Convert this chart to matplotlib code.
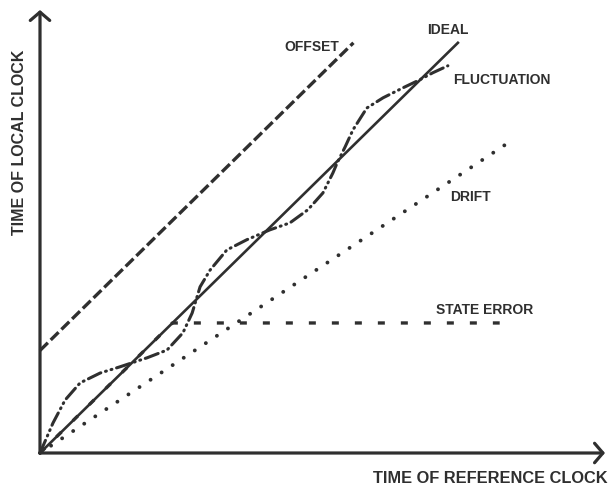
import matplotlib
matplotlib.use('Agg')
import matplotlib.pyplot as plt

# reference clock time (x) vs local clock time (y), arbitrary units
ideal_x = [0, 10]
ideal_y = [0, 10]

offset_x = [0, 7.5]
offset_y = [2.5, 10.0]

drift_x = [0, 11.2]
drift_y = [0, 7.56]

state_x = [0, 3.17, 11.0]
state_y = [0, 3.17, 3.17]

fluct_x = [0, 0.31, 0.60, 0.96, 1.44, 1.91, 2.56, 3.04, 3.42, 3.64, 3.83, 4.07,
           4.47, 4.95, 5.50, 5.98, 6.41, 6.77, 7.01, 7.11, 7.30, 7.49, 7.82,
           8.21, 8.68, 9.09, 9.40, 9.76]
fluct_y = [0, 0.73, 1.29, 1.71, 1.95, 2.10, 2.32, 2.51, 2.93, 3.41, 4.05, 4.46,
           4.95, 5.20, 5.44, 5.61, 5.93, 6.34, 6.83, 7.07, 7.46, 7.88, 8.41,
           8.66, 8.90, 9.10, 9.27, 9.44]

labels = {
    'OFFSET': (6.51, 9.90),
    'IDEAL': (9.76, 10.32),
    'FLUCTUATION': (11.05, 9.10),
    'DRIFT': (10.29, 6.24),
    'STATE ERROR': (10.65, 3.49),
}

x_max = 13.52
y_max = 10.8

col = '#2f2f2f'
font = ['Liberation Sans', 'DejaVu Sans']

fig = plt.figure(figsize=(6.08, 4.86), dpi=100)
ax = fig.add_axes([40 / 608, 33 / 486, 565 / 608, 443 / 486])
ax.set_xlim(0, x_max)
ax.set_ylim(0, y_max)
ax.axis('off')

# state error (drawn first, mostly hidden under the ideal line)
ax.plot(state_x, state_y, color=col, lw=2.4, linestyle=(0, (2.1, 4.8)),
        solid_capstyle='butt', dash_capstyle='butt', clip_on=False)
ax.plot(drift_x, drift_y, color=col, lw=2.8, linestyle=(0, (0.01, 3.4)),
        dash_capstyle='round', clip_on=False)
ax.plot(offset_x, offset_y, color=col, lw=2.4, linestyle=(0, (3.3, 1.2)),
        clip_on=False)
ax.plot(fluct_x, fluct_y, color=col, lw=2.2,
        linestyle=(0, (4.5, 1.6, 0.3, 1.6, 0.3, 1.6)),
        dash_capstyle='round', clip_on=False)
ax.plot(ideal_x, ideal_y, color=col, lw=1.9, clip_on=False)

# axes with open arrow heads
arrow = dict(arrowstyle='->,head_length=0.6,head_width=0.7', lw=2.3,
             color=col, shrinkA=0, shrinkB=0)
ax.annotate('', xy=(x_max, 0), xytext=(0, 0), arrowprops=arrow,
            annotation_clip=False)
ax.annotate('', xy=(0, y_max), xytext=(0, 0), arrowprops=arrow,
            annotation_clip=False)

for name, (tx, ty) in labels.items():
    ax.text(tx, ty, name, ha='center', va='center', fontsize=10,
            fontweight='bold', color=col, family=font)

fig.text(20 / 608, 1 - 142 / 486, 'TIME OF LOCAL CLOCK', rotation=90,
         ha='center', va='center', fontsize=11.5, fontweight='bold',
         color=col, family=font)
fig.text(490 / 608, 1 - 478 / 486, 'TIME OF REFERENCE CLOCK',
         ha='center', va='center', fontsize=11.8, fontweight='bold',
         color=col, family=font)

fig.savefig('out.png', dpi=100)
